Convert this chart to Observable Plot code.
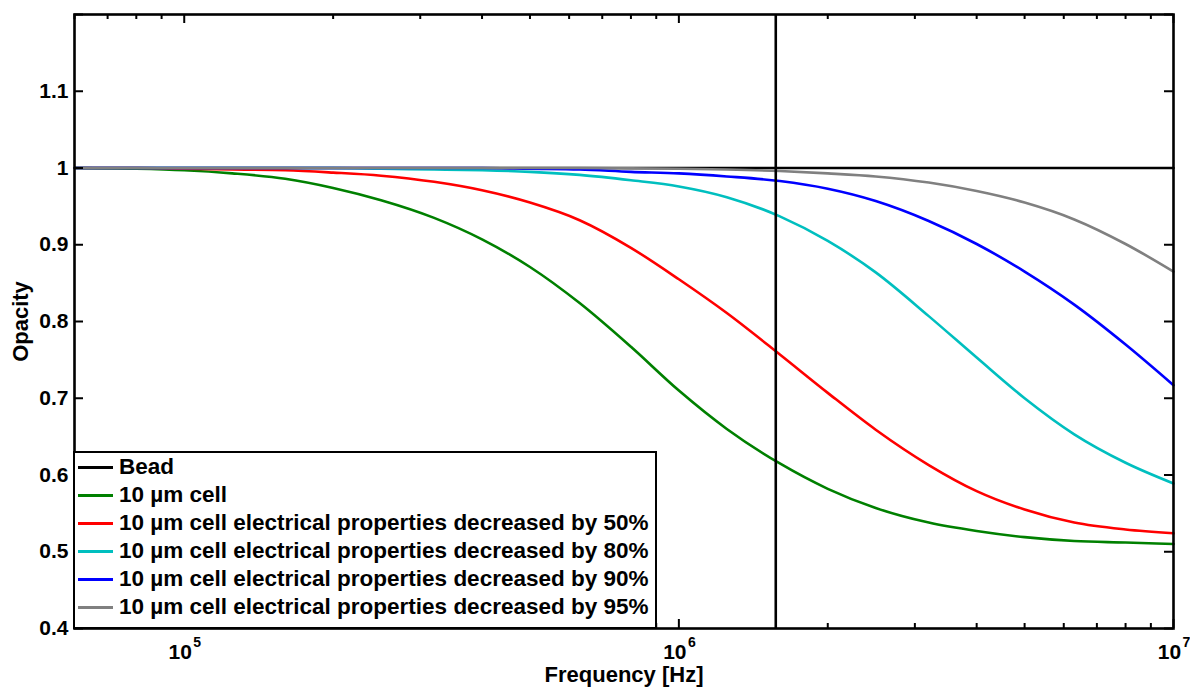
<!DOCTYPE html>
<html><head><meta charset="utf-8">
<script src="https://cdn.jsdelivr.net/npm/d3@7"></script>
<script src="https://cdn.jsdelivr.net/npm/@observablehq/plot@0.6"></script>
<style>
body{margin:0;background:#fff;}
#wrap{position:relative;width:1190px;height:687px;font-family:"Liberation Sans",Arial,Helvetica,sans-serif;font-weight:bold;}
#legend{position:absolute;left:73px;top:451px;width:584px;height:178px;box-sizing:border-box;border:2.5px solid #000;background:#fff;}
.row{height:28px;display:flex;align-items:center;font-size:22.5px;color:#000;white-space:nowrap;}
.sw{width:35px;height:3px;margin-left:3px;margin-right:6px;flex:none;}
</style></head>
<body><div id="wrap"><div id="chart"></div><div id="legend"></div></div>
<script>
const freq  = [6e4, 8e4, 1e5, 1.25e5, 1.6e5, 2e5, 2.5e5, 3.2e5, 4e5, 5e5, 6.3e5, 8e5, 1e6, 1.25e6, 1.6e6, 2e6, 2.5e6, 3.2e6, 4e6, 5e6, 6.3e6, 8e6, 1e7];
const bead  = [1, 1, 1, 1, 1, 1, 1, 1, 1, 1, 1, 1, 1, 1, 1, 1, 1, 1, 1, 1, 1, 1, 1];
const cell  = [1.000, 0.999, 0.997, 0.993, 0.986, 0.974, 0.958, 0.935, 0.907, 0.871, 0.824, 0.767, 0.710, 0.660, 0.615, 0.582, 0.557, 0.538, 0.527, 0.519, 0.514, 0.512, 0.510];
const dec50 = [1.000, 1.000, 0.999, 0.998, 0.997, 0.994, 0.990, 0.982, 0.971, 0.955, 0.932, 0.896, 0.855, 0.811, 0.757, 0.707, 0.659, 0.613, 0.579, 0.555, 0.538, 0.529, 0.524];
const dec80 = [1.000, 1.000, 1.000, 1.000, 1.000, 1.000, 0.999, 0.998, 0.997, 0.995, 0.991, 0.984, 0.976, 0.962, 0.937, 0.905, 0.864, 0.807, 0.753, 0.700, 0.653, 0.616, 0.589];
const dec90 = [1.000, 1.000, 1.000, 1.000, 1.000, 1.000, 1.000, 1.000, 1.000, 0.999, 0.998, 0.995, 0.993, 0.989, 0.983, 0.973, 0.957, 0.931, 0.901, 0.865, 0.822, 0.770, 0.717];
const dec95 = [1.000, 1.000, 1.000, 1.000, 1.000, 1.000, 1.000, 1.000, 1.000, 1.000, 1.000, 0.9995, 0.999, 0.998, 0.996, 0.993, 0.989, 0.981, 0.970, 0.955, 0.933, 0.901, 0.865];
const seriesNames = ["Bead", "10 \u00b5m cell", "10 \u00b5m cell electrical properties decreased by 50%", "10 \u00b5m cell electrical properties decreased by 80%", "10 \u00b5m cell electrical properties decreased by 90%", "10 \u00b5m cell electrical properties decreased by 95%"];
const seriesColors = ["#000000", "#008000", "#ff0000", "#00bfbf", "#0000ff", "#808080"];
const seriesValues = [bead, cell, dec50, dec80, dec90, dec95];
const markerFreq = [1.57e6];
const yTicks = [0.4, 0.5, 0.6, 0.7, 0.8, 0.9, 1, 1.1, 1.2];
const yLabels = [0.4, 0.5, 0.6, 0.7, 0.8, 0.9, 1, 1.1];
const xMajor = [1e5, 1e6, 1e7];
const xExp = ["5", "6", "7"];
const xMinor = [6e4, 7e4, 8e4, 9e4, 2e5, 3e5, 4e5, 5e5, 6e5, 7e5, 8e5, 9e5, 2e6, 3e6, 4e6, 5e6, 6e6, 7e6, 8e6, 9e6];

const W = 1190, H = 687, mL = 74, mR = 17, mT = 14, mB = 59;
const innerW = W - mL - mR, innerH = H - mT - mB;

const lineMarks = seriesValues.map((vals, i) =>
  Plot.line(freq.map((f, j) => ({f, v: vals[j]})), {x: "f", y: "v", stroke: seriesColors[i], strokeWidth: 2.6, curve: "monotone-x"})
);

const font = {fontSize: 21, fontWeight: "bold", fill: "#000", lineAnchor: "middle"};

const chart = Plot.plot({
  width: W, height: H,
  marginLeft: mL, marginRight: mR, marginTop: mT, marginBottom: mB,
  style: {fontFamily: '"Liberation Sans", Arial, Helvetica, sans-serif', background: "#fff"},
  x: {type: "log", domain: [6e4, 1e7], axis: null},
  y: {domain: [0.4, 1.2], axis: null},
  marks: [
    ...lineMarks,
    Plot.ruleX(markerFreq, {x: d => d, stroke: "#000", strokeWidth: 2.6}),
    Plot.tickX(xMajor, {x: d => d, stroke: "#000", strokeWidth: 2, insetTop: innerH - 9}),
    Plot.tickX(xMajor, {x: d => d, stroke: "#000", strokeWidth: 2, insetBottom: innerH - 9}),
    Plot.tickX(xMinor, {x: d => d, stroke: "#000", strokeWidth: 2, insetTop: innerH - 5}),
    Plot.tickX(xMinor, {x: d => d, stroke: "#000", strokeWidth: 2, insetBottom: innerH - 5}),
    Plot.tickY(yTicks, {y: d => d, stroke: "#000", strokeWidth: 2, insetRight: innerW - 9}),
    Plot.tickY(yTicks, {y: d => d, stroke: "#000", strokeWidth: 2, insetLeft: innerW - 9}),
    Plot.frame({stroke: "#000", strokeWidth: 2.6}),
    Plot.text(yLabels, {y: d => d, text: d => String(d), frameAnchor: "left", textAnchor: "end", dx: -6, ...font}),
    Plot.text(xMajor, {x: d => d, text: () => "10", frameAnchor: "bottom", textAnchor: "middle", dx: -4, dy: 24, ...font}),
    Plot.text(xMajor, {x: d => d, text: (d, i) => xExp[i], frameAnchor: "bottom", textAnchor: "middle", lineAnchor: "middle", dx: 13, dy: 14, fontSize: 14, fontWeight: "bold", fill: "#000"}),
    Plot.text(["Frequency [Hz]"], {text: d => d, frameAnchor: "bottom", textAnchor: "middle", lineAnchor: "middle", dy: 46, fontSize: 22, fontWeight: "bold", fill: "#000"}),
    Plot.text(["Opacity"], {text: d => d, frameAnchor: "left", textAnchor: "middle", lineAnchor: "middle", dx: -54, rotate: -90, fontSize: 22, fontWeight: "bold", fill: "#000"})
  ]
});
document.getElementById("chart").appendChild(chart);

const legend = document.getElementById("legend");
seriesNames.forEach((name, i) => {
  const row = document.createElement("div");
  row.className = "row";
  const sw = document.createElement("span");
  sw.className = "sw";
  sw.style.background = seriesColors[i];
  const tx = document.createElement("span");
  tx.textContent = name;
  row.appendChild(sw); row.appendChild(tx);
  legend.appendChild(row);
});
</script>
</body></html>
